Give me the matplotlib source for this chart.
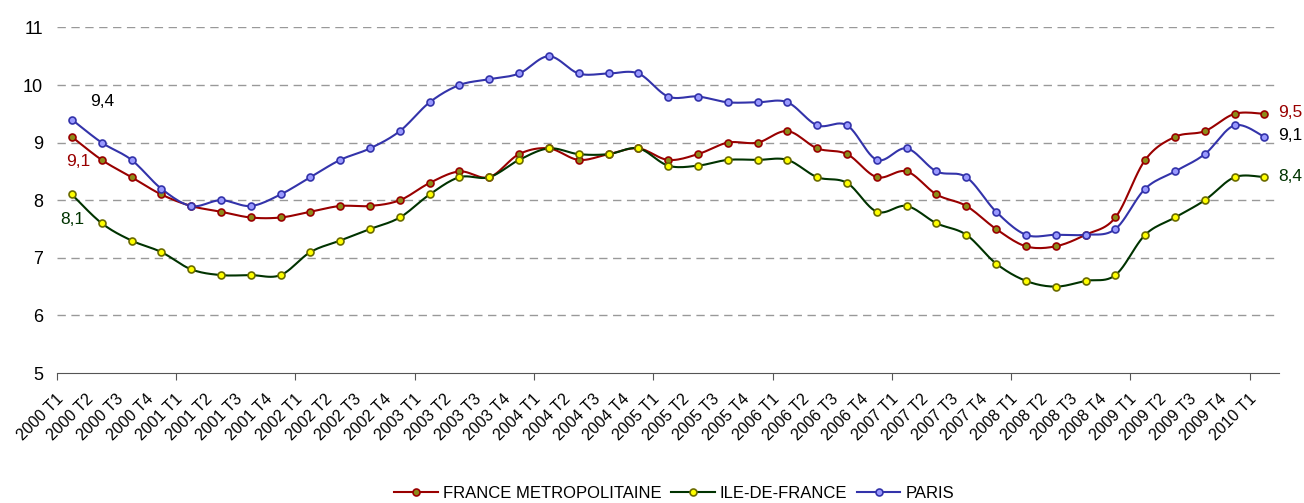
import matplotlib
matplotlib.use("Agg")
import matplotlib.pyplot as plt
import matplotlib.transforms as mtransforms
from matplotlib.lines import Line2D
import numpy as np

# Données trimestrielles 2000 T1 -> 2010 T1
years = list(range(2000, 2011))
quarters = [f"{y} T{q}" for y in years for q in range(1, 5)][:41]

france = [9.1, 8.7, 8.4, 8.1,
          7.9, 7.8, 7.7, 7.7,
          7.8, 7.9, 7.9, 8.0,
          8.3, 8.5, 8.4, 8.8,
          8.9, 8.7, 8.8, 8.9,
          8.7, 8.8, 9.0, 9.0,
          9.2, 8.9, 8.8, 8.4,
          8.5, 8.1, 7.9, 7.5,
          7.2, 7.2, 7.4, 7.7,
          8.7, 9.1, 9.2, 9.5,
          9.5]
idf = [8.1, 7.6, 7.3, 7.1,
       6.8, 6.7, 6.7, 6.7,
       7.1, 7.3, 7.5, 7.7,
       8.1, 8.4, 8.4, 8.7,
       8.9, 8.8, 8.8, 8.9,
       8.6, 8.6, 8.7, 8.7,
       8.7, 8.4, 8.3, 7.8,
       7.9, 7.6, 7.4, 6.9,
       6.6, 6.5, 6.6, 6.7,
       7.4, 7.7, 8.0, 8.4,
       8.4]
paris = [9.4, 9.0, 8.7, 8.2,
         7.9, 8.0, 7.9, 8.1,
         8.4, 8.7, 8.9, 9.2,
         9.7, 10.0, 10.1, 10.2,
         10.5, 10.2, 10.2, 10.2,
         9.8, 9.8, 9.7, 9.7,
         9.7, 9.3, 9.3, 8.7,
         8.9, 8.5, 8.4, 7.8,
         7.4, 7.4, 7.4, 7.5,
         8.2, 8.5, 8.8, 9.3,
         9.1]

names = ["FRANCE METROPOLITAINE", "ILE-DE-FRANCE", "PARIS"]
line_colors = ["#990000", "#003300", "#3333aa"]
marker_faces = ["#8c8c1a", "#ffff00", "#9999ff"]
marker_edges = ["#990000", "#6b6b00", "#3333aa"]


def smooth(x, y, n=12):
    # Courbe lissée type Excel (Catmull-Rom)
    x = np.asarray(x, float)
    y = np.asarray(y, float)
    px = np.concatenate([[x[0]], x, [x[-1]]])
    py = np.concatenate([[y[0]], y, [y[-1]]])
    xs, ys = [], []
    t = np.linspace(0, 1, n, endpoint=False)
    for i in range(1, len(px) - 2):
        for arr, out in ((px, xs), (py, ys)):
            p0, p1, p2, p3 = arr[i - 1], arr[i], arr[i + 1], arr[i + 2]
            out.extend(0.5 * (2 * p1 + (-p0 + p2) * t
                              + (2 * p0 - 5 * p1 + 4 * p2 - p3) * t ** 2
                              + (-p0 + 3 * p1 - 3 * p2 + p3) * t ** 3))
    xs.append(x[-1])
    ys.append(y[-1])
    return xs, ys


plt.rcParams['font.family'] = ['Liberation Sans', 'DejaVu Sans']

fig = plt.figure(figsize=(13.04, 5.03), dpi=100)
ax = fig.add_axes([0.0437, 0.2584, 0.9374, 0.6871])

x = np.arange(len(quarters))
series = [france, idf, paris]
handles = []
for vals, name, lc, mf, me in zip(series, names, line_colors, marker_faces, marker_edges):
    sx, sy = smooth(x, vals)
    ax.plot(sx, sy, color=lc, lw=1.5, zorder=3)
    ax.plot(x, vals, ls='none', marker='o', ms=5, mfc=mf, mec=me, mew=1.2, zorder=4)
    handles.append(Line2D([], [], color=lc, lw=1.5, marker='o', ms=5, mfc=mf, mec=me,
                          mew=1.2, label=name))

ax.set_xlim(-0.5, len(quarters) - 0.5)
ax.set_ylim(5, 11)
ax.set_yticks(range(5, 12))
ax.tick_params(axis='y', length=0, labelsize=13, pad=10)
for v in range(6, 12):
    ax.axhline(v, color='#999999', lw=1, ls=(0, (6, 4)), zorder=1)

ax.set_xticks(np.arange(-0.5, len(quarters) - 1, 4))
ax.set_xticklabels([])
ax.tick_params(axis='x', which='major', length=5, color='#555555')
ax.set_xticks(x, quarters, minor=True)
ax.tick_params(axis='x', which='minor', length=0, labelsize=11.5, pad=4)
shift = mtransforms.ScaledTranslation(-0.16, -0.13, fig.dpi_scale_trans)
for lab in ax.get_xticklabels(minor=True):
    lab.set_rotation(45)
    lab.set_ha('right')
    lab.set_va('top')
    lab.set_rotation_mode('anchor')
    lab.set_transform(lab.get_transform() + shift)

for s in ['top', 'right', 'left']:
    ax.spines[s].set_visible(False)
ax.spines['bottom'].set_color('#555555')

# Étiquettes de valeurs
ax.text(1, 9.72, "9,4", color='black', fontsize=12.5, ha='center', va='center')
ax.text(0.2, 8.68, "9,1", color='#990000', fontsize=12.5, ha='center', va='center')
ax.text(0.0, 7.66, "8,1", color='#003300', fontsize=12.5, ha='center', va='center')
ax.text(40.45, 9.52, "9,5", color='#990000', fontsize=12.5, ha='left', va='center')
ax.text(40.45, 9.12, "9,1", color='black', fontsize=12.5, ha='left', va='center')
ax.text(40.45, 8.42, "8,4", color='#003300', fontsize=12.5, ha='left', va='center')

fig.legend(handles=handles, loc='lower center', bbox_to_anchor=(0.517, -0.025), ncol=3,
           frameon=False, fontsize=12, handlelength=2.6, columnspacing=0.6,
           handletextpad=0.3)

fig.savefig("out.png", dpi=100)
